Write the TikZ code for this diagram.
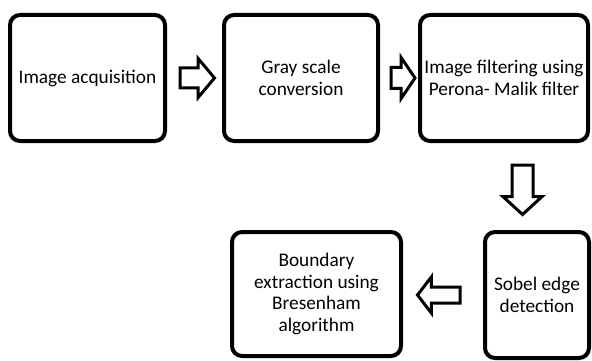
\documentclass[tikz,border=0pt]{standalone}
\usepackage{fontspec}
\setmainfont{Carlito}
\usetikzlibrary{shapes.arrows, positioning, calc}

\tikzset{
  stage/.style={draw, line width=4pt, rounded corners=10pt, align=center,
    inner sep=0pt, font=\fontsize{19.3}{21.5}\selectfont},
  blockarrow/.style={draw, line width=3pt, single arrow, inner xsep=0pt,
    single arrow head indent=0pt, anchor=tail}
}

\begin{document}
\begin{tikzpicture}[x=1pt, y=-1pt]
  \useasboundingbox (0,0) rectangle (592,361);

  % processing stages
  \node[stage, minimum width=155pt, minimum height=126pt] (acq) at (87.5,78) {Image acquisition};
  \node[stage, minimum width=154pt, minimum height=126pt] (gray) at (301,78) {Gray scale\\conversion};
  \node[stage, minimum width=168pt, minimum height=126pt] (filt) at (504,78) {Image filtering using\\Perona- Malik filter};
  \node[stage, minimum width=104pt, minimum height=126pt] (sobel) at (537,295) {Sobel edge\\detection};
  \node[stage, minimum width=169pt, minimum height=124pt] (bound) at (316.5,294) {Boundary\\extraction using\\Bresenham\\algorithm};

  % hollow arrows between stages
  \node[blockarrow, minimum height=34.5pt, inner ysep=8.5pt,
    single arrow head extend=9.5pt, single arrow tip angle=100] (a1) at ($(acq.east)+(11.5,0)$) {};
  \node[blockarrow, minimum height=24pt, inner ysep=9pt,
    single arrow head extend=10pt, single arrow tip angle=112] (a2) at ($(gray.east)+(9.5,0)$) {};
  \node[blockarrow, rotate=-90, minimum height=49.5pt, inner ysep=9pt,
    single arrow head extend=9pt, single arrow tip angle=95] (a3) at ($(filt.south)+(18.5,20.5)$) {};
  \node[blockarrow, rotate=180, minimum height=42.5pt, inner ysep=6.5pt,
    single arrow head extend=10pt, single arrow tip angle=105] (a4) at ($(sobel.west)+(-21.5,0)$) {};
\end{tikzpicture}
\end{document}
